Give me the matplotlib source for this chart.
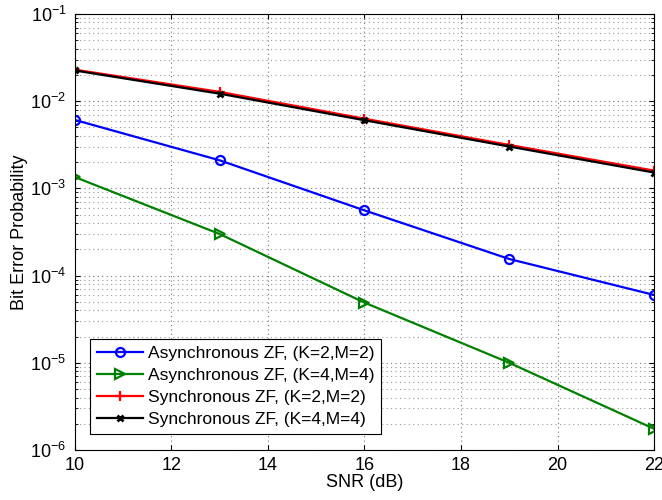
import matplotlib
matplotlib.use("Agg")
import matplotlib.pyplot as plt

plt.rcParams['font.family'] = ['Liberation Sans', 'DejaVu Sans']
plt.rcParams['mathtext.fontset'] = 'custom'
plt.rcParams['mathtext.rm'] = 'Liberation Sans'

snr = [10, 13, 16, 19, 22]
async_k2 = [6.1e-3, 2.1e-3, 5.6e-4, 1.55e-4, 6.0e-5]
async_k4 = [1.35e-3, 3.0e-4, 4.9e-5, 1.0e-5, 1.75e-6]
sync_k2 = [2.3e-2, 1.28e-2, 6.3e-3, 3.15e-3, 1.6e-3]
sync_k4 = [2.25e-2, 1.22e-2, 6.05e-3, 3.02e-3, 1.52e-3]

labels = ['Asynchronous ZF, (K=2,M=2)', 'Asynchronous ZF, (K=4,M=4)',
          'Synchronous ZF, (K=2,M=2)', 'Synchronous ZF, (K=4,M=4)']

fig = plt.figure(figsize=(6.62, 5.0), dpi=100)
ax = fig.add_axes([0.113, 0.1, 0.875, 0.872])

ax.semilogy(snr, async_k2, '-o', color='blue', lw=1.6, ms=6.5, mfc='none', mew=1.6, label=labels[0])
ax.semilogy(snr, async_k4, '->', color='#008000', lw=1.6, ms=6.5, mfc='none', mew=1.6, label=labels[1])
ax.semilogy(snr, sync_k2, '-+', color='red', lw=1.6, ms=7, mew=1.6, label=labels[2])
ax.semilogy(snr, sync_k4, '-x', color='black', lw=1.6, ms=4.5, mew=2, label=labels[3])

ax.set_xlim(10, 22)
ax.set_ylim(1e-6, 1e-1)
ax.set_xticks([10, 12, 14, 16, 18, 20, 22])
ax.grid(True, which='major', ls=(0, (1, 3)), color='#777777', lw=0.8)
ax.grid(True, which='minor', axis='y', ls=(0, (1, 3)), color='#999999', lw=0.8)
ax.tick_params(which='both', direction='in', top=True, right=True, labelsize=13)
ax.tick_params(axis='y', pad=6)
ax.tick_params(axis='x', pad=5)
ax.set_xlabel('SNR (dB)', fontsize=13, labelpad=0)
ax.set_ylabel('Bit Error Probability', fontsize=13, labelpad=2)

leg = ax.legend(loc='lower left', fontsize=12.5, fancybox=False, framealpha=1,
                edgecolor='black', borderaxespad=0.9, handlelength=2.6,
                handletextpad=0.3, labelspacing=0.4, borderpad=0.4)
leg.get_frame().set_linewidth(0.8)

fig.savefig('out.png', dpi=100)
